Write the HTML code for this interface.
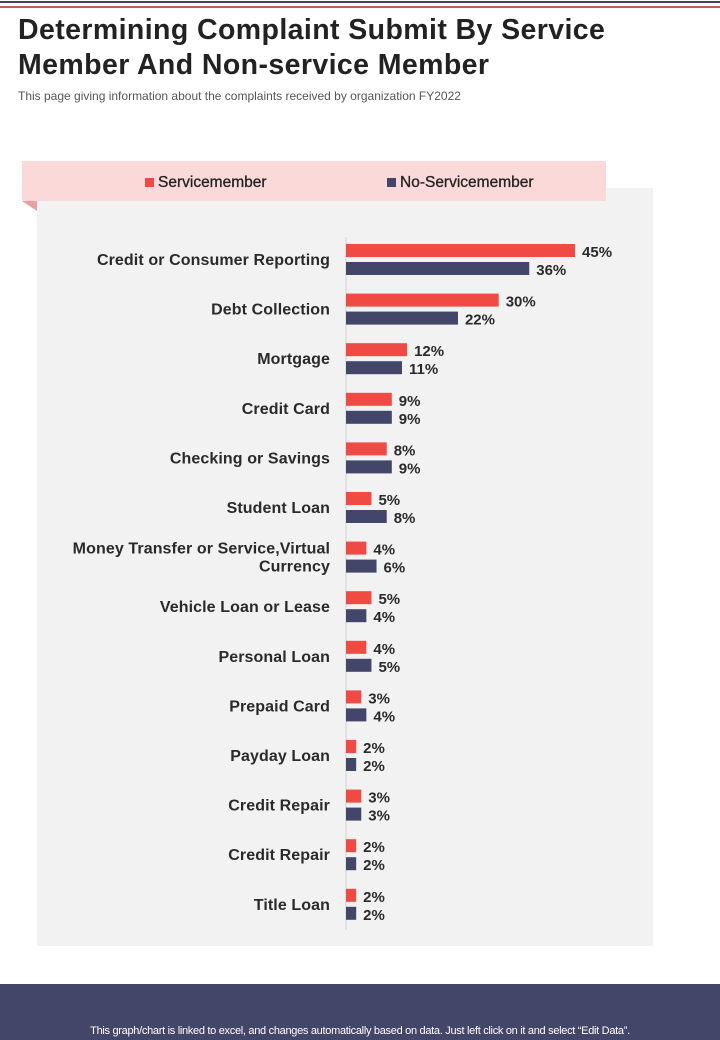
<!DOCTYPE html>
<html><head><meta charset="utf-8"><style>
body{margin:0;width:720px;height:1040px;position:relative;background:#fff;font-family:"Liberation Sans",sans-serif;overflow:hidden}
.abs{position:absolute}
</style></head><body>
<div class="abs" style="left:0;top:1px;width:720px;height:2px;background:#434569"></div>
<div class="abs" style="left:0;top:6px;width:720px;height:2px;background:#b5615b"></div>
<div class="abs" style="left:18px;top:13px;font-size:28.5px;font-weight:bold;line-height:35px;color:#222;letter-spacing:0.4px">Determining Complaint Submit By Service<br>Member And Non-service Member</div>
<div class="abs" style="left:18px;top:89px;font-size:12px;color:#555">This page giving information about the complaints received by organization FY2022</div>
<div class="abs" style="left:37px;top:188px;width:616px;height:758px;background:#f2f2f2"></div>
<div class="abs" style="left:22px;top:201px;width:0;height:0;border-top:10px solid #e8a0a0;border-left:15px solid transparent"></div>
<div class="abs" style="left:22px;top:161px;width:584px;height:40px;background:#fbd9d9"></div>
<div class="abs" style="left:145px;top:174px;font-size:15.5px;color:#222;-webkit-text-stroke:0.3px #222"><span style="display:inline-block;width:9px;height:9px;background:#f04a45;margin-right:4px"></span>Servicemember</div>
<div class="abs" style="left:387px;top:174px;font-size:15.5px;color:#222;-webkit-text-stroke:0.3px #222"><span style="display:inline-block;width:9px;height:9px;background:#434569;margin-right:4px"></span>No-Servicemember</div>
<svg class="abs" style="left:0;top:0" width="720" height="1040" id="chart"></svg>
<div class="abs" style="left:0;top:984px;width:720px;height:56px;background:#434569"></div>
<div class="abs" style="left:0;top:1025px;width:720px;text-align:center;font-size:11px;color:#fff;letter-spacing:-0.3px">This graph/chart is linked to excel, and changes automatically based on data. Just left click on it and select “Edit Data”.</div>
<script>
const categories=["Credit or Consumer Reporting","Debt Collection","Mortgage","Credit Card","Checking or Savings","Student Loan","Money Transfer or Service,Virtual|Currency","Vehicle Loan or Lease","Personal Loan","Prepaid Card","Payday Loan","Credit Repair","Credit Repair","Title Loan"];
const service=[45,30,12,9,8,5,4,5,4,3,2,3,2,2];
const nonService=[36,22,11,9,9,8,6,4,5,4,2,3,2,2];
const svg=document.getElementById('chart');
const NS='http://www.w3.org/2000/svg';
const x0=346,perPct=5.09;
function xs(v){return v*perPct;}
function yc(i){return 260+i*49.6;}
function mk(t,a){const e=document.createElementNS(NS,t);for(const k in a)e.setAttribute(k,a[k]);svg.appendChild(e);return e;}
const ax=mk('line',{x1:x0,x2:x0,y1:237,y2:930,stroke:'#d0d0d0','stroke-width':1});


categories.forEach((c,i)=>{
  const y=yc(i);
  const lines=c.split('|');
  lines.forEach((ln,j)=>{
    const t=mk('text',{x:330,y:y+5+(j-(lines.length-1)/2)*18,'text-anchor':'end','font-size':16,'font-weight':'bold',fill:'#2a2a2a','letter-spacing':'0.1'});
    t.textContent=ln;
    
    
  });
  const r=mk('rect',{x:x0,y:y-16,width:xs(service[i]),height:13,fill:'#f04a45'});
  
  
  const n=mk('rect',{x:x0,y:y+2,width:xs(nonService[i]),height:13,fill:'#434569'});
  
  
  const t1=mk('text',{x:x0+xs(service[i])+7,y:y-3,'font-size':15,'font-weight':'bold',fill:'#2a2a2a'});
  t1.textContent=service[i]+'%';
  
  
  const t2=mk('text',{x:x0+xs(nonService[i])+7,y:y+15,'font-size':15,'font-weight':'bold',fill:'#2a2a2a'});
  t2.textContent=nonService[i]+'%';
  
  
});
</script>
</body></html>
